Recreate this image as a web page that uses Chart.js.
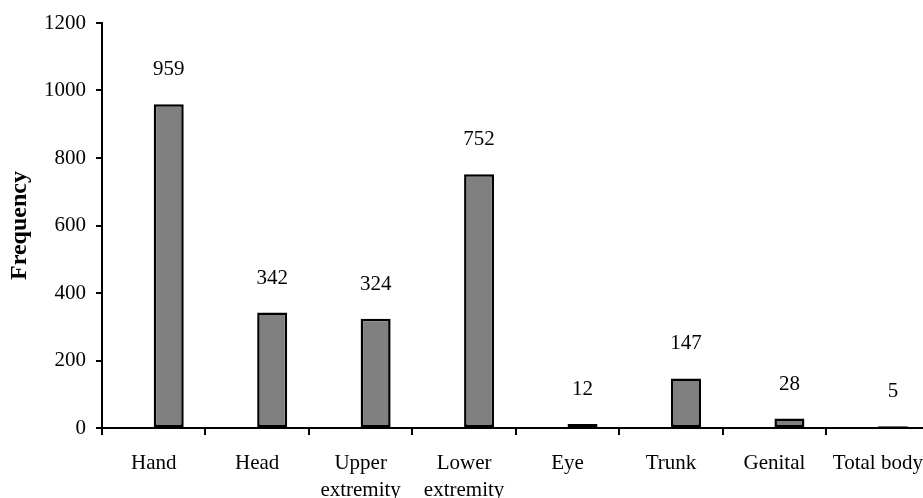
<!DOCTYPE html>
<html>
<head>
<meta charset="utf-8">
<script src="https://cdn.jsdelivr.net/npm/chart.js@4/dist/chart.umd.min.js"></script>
<style>
html,body{margin:0;padding:0;overflow:hidden;background:#fff;width:923px;height:498px;}
canvas{display:block;}
</style>
</head>
<body>
<canvas id="c" width="938" height="498"></canvas>
<script>
const categories = ["Hand", "Head", ["Upper", "extremity"], ["Lower", "extremity"], "Eye", "Trunk", "Genital", "Total body"];
const frequency = [959, 342, 324, 752, 12, 147, 28, 5];
const emptySeries = [null, null, null, null, null, null, null, null];
const yTicks = [0, 200, 400, 600, 800, 1000, 1200];

const FONT = "'Liberation Serif', 'Times New Roman', serif";

const valueLabels = {
  id: 'valueLabels',
  afterDatasetsDraw(chart) {
    const ctx = chart.ctx;
    const meta = chart.getDatasetMeta(1);
    ctx.save();
    ctx.font = "21px " + FONT;
    ctx.fillStyle = '#000';
    ctx.textAlign = 'center';
    ctx.textBaseline = 'middle';
    meta.data.forEach((el, i) => {
      ctx.fillText(String(frequency[i]), el.x, el.y - 34.5);
    });
    ctx.restore();
  }
};

new Chart(document.getElementById('c'), {
  type: 'bar',
  data: {
    labels: categories,
    datasets: [
      { data: emptySeries, backgroundColor: '#808080', borderColor: '#000', borderWidth: 2 },
      { data: frequency, backgroundColor: '#808080', borderColor: '#000', borderWidth: 2.5, borderSkipped: false }
    ]
  },
  options: {
    responsive: false,
    animation: false,
    categoryPercentage: 0.58,
    barPercentage: 1.0,
    layout: { padding: { top: 23, right: 1, left: 0, bottom: 0 } },
    plugins: { legend: { display: false }, tooltip: { enabled: false } },
    scales: {
      x: {
        offset: true,
        grid: { display: true, offset: true, drawOnChartArea: false, tickLength: 7, color: '#000', lineWidth: 2 },
        border: { display: true, color: '#000', width: 2 },
        ticks: { color: '#000', font: { family: FONT, size: 21, lineHeight: 1.3 }, padding: 15, maxRotation: 0, autoSkip: false },
        afterFit(scale) { scale.height = 70; }
      },
      y: {
        min: 0, max: 1200,
        afterBuildTicks(scale) { scale.ticks = yTicks.map(v => ({ value: v })); },
        grid: { display: true, drawOnChartArea: false, tickLength: 6, color: '#000', lineWidth: 2 },
        border: { display: true, color: '#000', width: 2 },
        ticks: { color: '#000', font: { family: FONT, size: 21 }, padding: 10, callback: (v) => String(v) },
        title: { display: true, text: 'Frequency', color: '#000', font: { family: FONT, size: 24, weight: 'bold' }, padding: { top: 5, bottom: 0 } },
        afterFit(scale) { scale.width = 102; }
      }
    }
  },
  plugins: [valueLabels]
});
</script>
</body>
</html>
